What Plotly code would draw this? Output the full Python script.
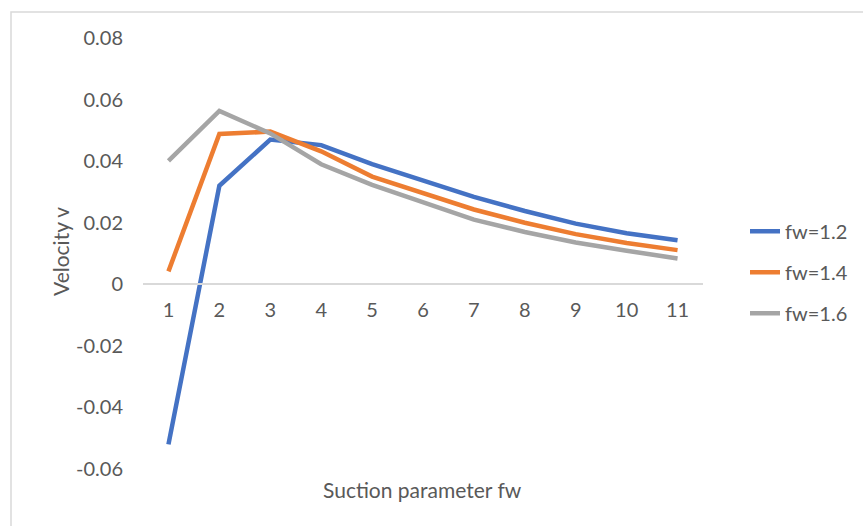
import plotly.graph_objects as go

# Suction parameter index along the horizontal axis
fw_index = [1, 2, 3, 4, 5, 6, 7, 8, 9, 10, 11]

# Velocity profiles for three suction values
v_fw12 = [-0.052, 0.032, 0.047, 0.0452, 0.0390, 0.0336, 0.0284, 0.0238, 0.0197, 0.0166, 0.0143]
v_fw14 = [0.0042, 0.0488, 0.0496, 0.0432, 0.0350, 0.0296, 0.0243, 0.0200, 0.0163, 0.0134, 0.0111]
v_fw16 = [0.0401, 0.0563, 0.0490, 0.0390, 0.0323, 0.0268, 0.0210, 0.0170, 0.0136, 0.0109, 0.0084]

series_names = ["fw=1.2", "fw=1.4", "fw=1.6"]
series_values = [v_fw12, v_fw14, v_fw16]
series_colors = ["#4472C4", "#ED7D31", "#A5A5A5"]

y_ticks = [-0.06, -0.04, -0.02, 0, 0.02, 0.04, 0.06, 0.08]
y_tick_text = ["-0.06", "-0.04", "-0.02", "0", "0.02", "0.04", "0.06", "0.08"]

FONT = "Lato"
FS = 20
FS_TITLE = 21
TEXT_COLOR = "#595959"

fig = go.Figure()
for i, (name, vals, col) in enumerate(zip(series_names, series_values, series_colors)):
    fig.add_trace(go.Scatter(
        x=fw_index, y=vals, mode="lines", name=name,
        line=dict(color=col, width=4.5),
        legendgroup=f"g{i}",
    ))

y_min, y_max = -0.06, 0.08

fig.update_layout(
    width=863, height=526,
    margin=dict(l=143, r=160, t=38, b=57, autoexpand=False),
    paper_bgcolor="white", plot_bgcolor="white",
    font=dict(family=FONT, size=FS, color=TEXT_COLOR),
    showlegend=True,
    legend=dict(
        x=1.075, y=0.597, xanchor="left", yanchor="top",
        font=dict(family=FONT, size=FS, color=TEXT_COLOR),
        tracegroupgap=12,
        bgcolor="rgba(0,0,0,0)",
    ),
    xaxis=dict(
        range=[0.5, 11.5],
        tickmode="array", tickvals=fw_index, ticktext=[str(v) for v in fw_index],
        showgrid=False, zeroline=False,
        showline=True, linecolor="#D9D9D9", linewidth=1.5,
        ticks="", anchor="free", ticklabelstandoff=8,
        position=(0 - y_min) / (y_max - y_min),
        tickfont=dict(family=FONT, size=FS, color=TEXT_COLOR),
    ),
    yaxis=dict(
        range=[y_min, y_max],
        tickmode="array", tickvals=y_ticks, ticktext=y_tick_text,
        showgrid=False, zeroline=False, showline=False,
        ticks="", ticklabelstandoff=19,
        tickfont=dict(family=FONT, size=FS, color=TEXT_COLOR),
    ),
    annotations=[
        dict(text="Velocity v", xref="paper", yref="paper",
             x=(61 - 143) / 560, y=(469 - 252) / 431,
             textangle=-90, showarrow=False,
             xanchor="center", yanchor="middle",
             font=dict(family=FONT, size=FS_TITLE, color=TEXT_COLOR)),
        dict(text="Suction parameter fw", xref="paper", yref="paper",
             x=(422 - 143) / 560, y=(469 - 489) / 431,
             showarrow=False, xanchor="center", yanchor="middle",
             font=dict(family=FONT, size=FS_TITLE, color=TEXT_COLOR)),
    ],
    shapes=[
        dict(type="rect", xref="paper", yref="paper",
             x0=(11 - 143) / 560, x1=(880 - 143) / 560,
             y0=(469 - 540) / 431, y1=(469 - 12) / 431,
             line=dict(color="#D9D9D9", width=1.5), layer="below"),
    ],
)

fig.write_html("out.html")
